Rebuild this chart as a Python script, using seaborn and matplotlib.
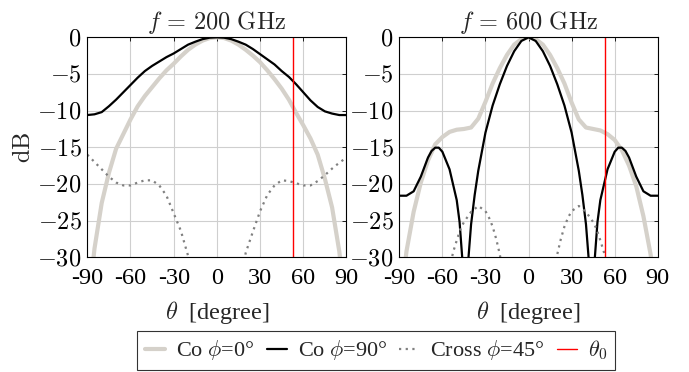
import matplotlib
matplotlib.use("Agg")
import matplotlib.pyplot as plt
import seaborn as sns
from matplotlib.lines import Line2D

# ---- data ----
theta_0 = 53

theta_5 = [-90, -85, -80, -75, -70, -65, -60, -55, -50, -45, -40, -35, -30, -25, -20, -15, -10, -5, 0,
           5, 10, 15, 20, 25, 30, 35, 40, 45, 50, 55, 60, 65, 70, 75, 80, 85, 90]

# f = 200 GHz
co0_200 = [-38, -28.8, -22.6, -18.5, -15.2, -13.2, -11.2, -9.4, -8.0, -6.8, -5.6, -4.5, -3.6, -2.6, -1.7, -1.0, -0.45, -0.1, 0,
           -0.1, -0.45, -1.0, -1.7, -2.5, -3.4, -4.5, -5.7, -7.0, -8.5, -10.3, -12.0, -13.8, -16.0, -19.3, -23.2, -29.2, -38]
co90_200 = [-10.6, -10.5, -10.2, -9.4, -8.5, -7.5, -6.5, -5.5, -4.6, -3.9, -3.3, -2.7, -2.2, -1.6, -1.0, -0.6, -0.25, -0.05, 0,
            -0.05, -0.25, -0.6, -1.0, -1.6, -2.3, -3.0, -3.7, -4.6, -5.4, -6.4, -7.5, -8.6, -9.5, -10.1, -10.4, -10.6, -10.6]
cross_200 = [-16.0, -17.0, -18.0, -19.0, -19.8, -20.2, -20.2, -19.8, -19.5, -19.5, -20.2, -21.6, -24.0, -26.4, -29.8, -35, -40, -48, -60,
             -48, -40, -35, -29.4, -26.5, -23.7, -21.5, -20.2, -19.5, -19.6, -19.9, -20.2, -20.2, -19.6, -18.8, -17.9, -17.1, -16.4]

# f = 600 GHz
co0_600 = [-38, -29.2, -23.8, -19.8, -16.8, -14.6, -13.6, -12.9, -12.6, -12.5, -12.3, -11.1, -8.8, -6.3, -4.2, -2.4, -1.0, -0.25, 0,
           -0.25, -1.0, -2.4, -4.2, -6.3, -8.9, -11.2, -12.3, -12.5, -12.7, -13.2, -14.0, -15.4, -17.5, -20.3, -24.4, -29.6, -38]

theta_co90_600 = [-90, -85, -80, -75, -70, -67.5, -65, -62.5, -60, -55, -50, -48, -46, -44, -42, -40, -37.5, -35, -30, -25,
                  -20, -15, -10, -5, 0, 5, 10, 15, 20, 25, 30, 35, 37.5, 40, 42, 44, 46, 48, 50, 55, 60, 62.5, 65,
                  67.5, 70, 75, 80, 85, 90]
co90_600 = [-21.6, -21.6, -21.0, -19.0, -16.4, -15.5, -15.05, -15.05, -15.6, -18.0, -22.2, -25.2, -30.5, -45, -30.5, -25.5, -21.5, -18.2,
            -13.0, -9.3, -6.4, -3.9, -1.9, -0.5, 0, -0.5, -1.9, -3.9, -6.4, -9.3, -13.0, -18.2, -21.5, -25.5, -30.5,
            -45, -30.5, -25.2, -22.2, -18.0, -15.6, -15.05, -15.05, -15.5, -16.4, -19.0, -21.0, -21.6, -21.6]

theta_cross_600 = [-90, -80, -70, -60, -55, -52.5, -50, -47.5, -45, -40, -35, -30, -27.5, -25, -22.5, -20, -18, -10, 0,
                   10, 18, 20, 22.5, 25, 27.5, 30, 35, 40, 45, 47.5, 50, 52.5, 55, 60, 70, 80, 90]
cross_600 = [-55, -50, -45, -36, -31.5, -29.3, -27.7, -26.2, -25.2, -23.8, -23.0, -23.7, -24.6, -25.8, -27.5, -29.6, -32, -45, -60,
             -45, -32, -29.6, -27.5, -25.8, -24.6, -23.7, -23.0, -23.8, -25.2, -26.2, -27.7, -29.3, -31.5, -36, -45, -50, -55]

panels = [("200", theta_5, co0_200, theta_5, co90_200, theta_5, cross_200),
          ("600", theta_5, co0_600, theta_co90_600, co90_600, theta_cross_600, cross_600)]

x_ticks = [-90, -60, -30, 0, 30, 60, 90]
y_ticks = [-30, -25, -20, -15, -10, -5, 0]

co0_color = "#d5d1ca"
cross_color = "#808080"
dotted = (0, (1.0, 2.0))
fs = 17.5

sns.set_theme(style="whitegrid")
plt.rcParams["font.family"] = ["Liberation Serif", "DejaVu Serif"]
plt.rcParams["mathtext.fontset"] = "cm"

fig = plt.figure(figsize=(6.89, 3.72), dpi=100)
axes = [fig.add_axes([0.1267, 0.3083, 0.3762, 0.5914]),
        fig.add_axes([0.5795, 0.3083, 0.3752, 0.5914])]

for ax, (freq, t0, c0, t90, c90, tx, cx) in zip(axes, panels):
    sns.lineplot(x=t0, y=c0, ax=ax, color=co0_color, lw=3.0, sort=False, estimator=None)
    sns.lineplot(x=t90, y=c90, ax=ax, color="black", lw=1.6, sort=False, estimator=None)
    sns.lineplot(x=tx, y=cx, ax=ax, color=cross_color, lw=1.6, sort=False, estimator=None,
                 linestyle=dotted)
    ax.axvline(theta_0, color="red", lw=1.0)

    ax.set_xlim(-90, 90)
    ax.set_ylim(-30, 0)
    ax.set_xticks(x_ticks)
    ax.set_xticklabels([str(v) for v in x_ticks], fontsize=fs)
    ax.set_yticks(y_ticks)
    ax.set_yticklabels([f"${v}$" for v in y_ticks], fontsize=fs)
    ax.tick_params(axis="x", pad=8)
    ax.tick_params(axis="y", pad=4)
    ax.tick_params(direction="in", length=3, width=0.6, top=True, right=True, colors="black")
    ax.grid(True, color="#cfcfcf", lw=0.8)
    for s in ax.spines.values():
        s.set_color("black")
        s.set_linewidth(0.8)
    ax.set_facecolor("white")
    ax.set_title(rf"$f\,=\,{freq}\ \mathrm{{GHz}}$", fontsize=fs, pad=6)
    ax.set_xlabel(r"$\theta$  [degree]", fontsize=fs, labelpad=7)
    ax.set_ylabel("")

axes[0].set_ylabel(r"$\mathrm{dB}$", fontsize=fs, labelpad=2)

handles = [Line2D([], [], color=co0_color, lw=3.0),
           Line2D([], [], color="black", lw=1.6),
           Line2D([], [], color=cross_color, lw=1.6, linestyle=dotted),
           Line2D([], [], color="red", lw=1.0)]
labels = [r"Co $\phi$=0°", r"Co $\phi$=90°", r"Cross $\phi$=45°", r"$\theta_0$"]
leg = fig.legend(handles, labels, ncol=4, loc="center", bbox_to_anchor=(0.546, 0.058),
                 fontsize=16, frameon=True, fancybox=False, handlelength=0.9,
                 handletextpad=0.5, columnspacing=0.55, borderpad=0.35, borderaxespad=0)
leg.get_frame().set_edgecolor("black")
leg.get_frame().set_linewidth(0.8)

fig.savefig("out.png", dpi=100)
